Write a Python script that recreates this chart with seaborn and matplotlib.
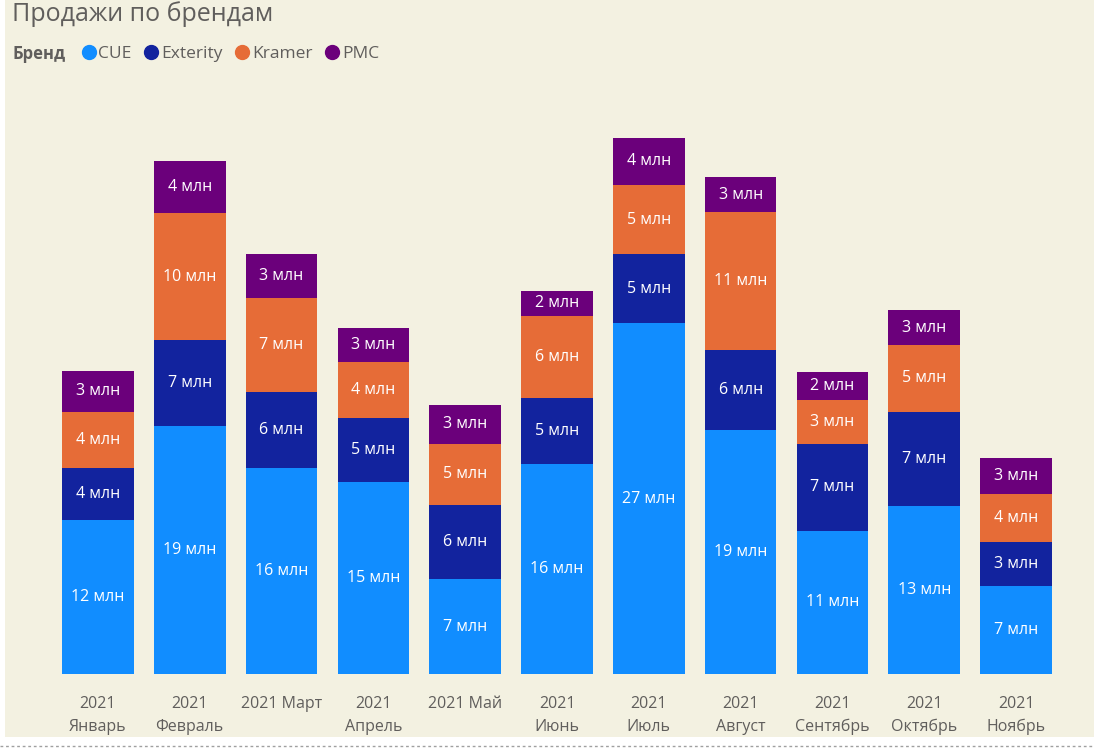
import matplotlib
matplotlib.use("Agg")
import matplotlib.pyplot as plt
import seaborn as sns
import pandas as pd
import numpy as np
from matplotlib.patches import Rectangle
from matplotlib.lines import Line2D

months = ["2021\nЯнварь", "2021\nФевраль", "2021 Март", "2021\nАпрель", "2021 Май",
          "2021\nИюнь", "2021\nИюль", "2021\nАвгуст", "2021\nСентябрь", "2021\nОктябрь", "2021\nНоябрь"]
brands = ["CUE", "Exterity", "Kramer", "PMC"]
cue = [12.0, 19.4, 16.1, 15.0, 7.4, 16.4, 27.4, 19.1, 11.2, 13.1, 6.9]
exterity = [4.1, 6.7, 5.9, 5.0, 5.8, 5.2, 5.4, 6.2, 6.8, 7.4, 3.4]
kramer = [4.4, 9.9, 7.4, 4.4, 4.8, 6.4, 5.4, 10.8, 3.4, 5.2, 3.8]
pmc = [3.2, 4.1, 3.4, 2.6, 3.0, 1.9, 3.7, 2.7, 2.2, 2.7, 2.8]
colors = ["#118DFF", "#12239E", "#E66C37", "#6B007B"]

BG = "#F3F1E1"
GREY = "#605E5C"

sns.set_theme(style="white")
plt.rcParams['font.family'] = ['Open Sans', 'DejaVu Sans']

series = [cue, exterity, kramer, pmc]
cum = np.cumsum(np.array(series), axis=0)

fig = plt.figure(figsize=(10.94, 7.48), dpi=100)
fig.patch.set_facecolor("white")
fig.patches.append(Rectangle((5 / 1094, 1 - 737 / 748), 1 - 5 / 1094, 737 / 748,
                             transform=fig.transFigure, facecolor=BG, edgecolor="none", zorder=-10))
fig.lines.append(Line2D([0, 1], [1 - 746 / 748] * 2, transform=fig.transFigure,
                        color="#A0A0A0", linestyle=(0, (2, 2)), linewidth=1, zorder=-5))

ax = fig.add_axes([52 / 1094, 74 / 748, 1010 / 1094, 576 / 748])
ax.set_facecolor("none")
ax.set_zorder(2)

# draw cumulative bars from the top layer down
for k in range(3, -1, -1):
    d = pd.DataFrame({"month": months, "val": cum[k]})
    sns.barplot(data=d, x="month", y="val", color=colors[k], width=0.78,
                saturation=1, ax=ax, edgecolor="none", zorder=2)

for k in range(4):
    bottoms = cum[k] - np.array(series[k])
    for i, v in enumerate(series[k]):
        ax.text(i, bottoms[i] + v / 2, f"{int(v + 0.5)} млн", ha="center", va="center",
                color="white", fontsize=11.5, zorder=5)

ax.set_ylim(0, 45)
ax.set_xlim(-0.5, len(months) - 0.5)
ax.set_xlabel("")
ax.set_ylabel("")
ax.set_yticks([])
for sp in ax.spines.values():
    sp.set_visible(False)
ax.tick_params(axis="x", length=0, pad=16, labelsize=11.5, labelcolor=GREY)
for lab in ax.get_xticklabels():
    lab.set_verticalalignment("top")
    lab.set_linespacing(1.55)

fig.text(12 / 1094, 1 - 14 / 748, "Продажи по брендам", fontsize=18, color=GREY,
         ha="left", va="center")
fig.text(13 / 1094, 1 - 54 / 748, "Бренд", fontsize=12, color=GREY, fontweight="bold",
         ha="left", va="center")
handles = [Line2D([], [], marker="o", linestyle="none", markersize=10,
                  markerfacecolor=c, markeredgecolor=c) for c in colors]
leg = fig.legend(handles, brands, loc="center left", bbox_to_anchor=(82 / 1094, 1 - 54 / 748),
                 ncol=4, frameon=False, fontsize=12.5, handletextpad=0.2, columnspacing=0.75,
                 handlelength=0.75, borderpad=0, borderaxespad=0)
for t in leg.get_texts():
    t.set_color(GREY)

fig.savefig("out.png", dpi=100, facecolor=fig.get_facecolor())
